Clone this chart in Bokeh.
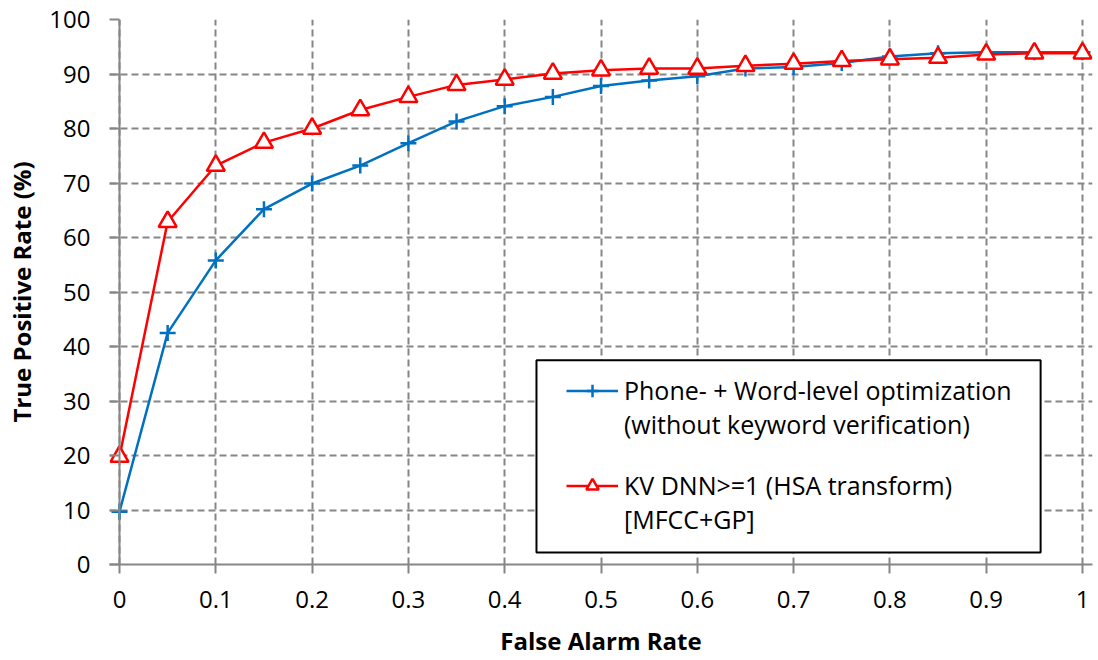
from bokeh.plotting import figure
from bokeh.models import (Legend, LegendItem, FixedTicker, NumeralTickFormatter,
                          Range1d, Span, BoxAnnotation)
from bokeh.embed import file_html
from bokeh.resources import INLINE

# ---- data ----
far = [0.0, 0.05, 0.1, 0.15, 0.2, 0.25, 0.3, 0.35, 0.4, 0.45, 0.5,
       0.55, 0.6, 0.65, 0.7, 0.75, 0.8, 0.85, 0.9, 0.95, 1.0]
tpr_phone_word = [9.7, 42.5, 55.8, 65.2, 69.9, 73.2, 77.3, 81.3, 84.1, 85.8, 87.8,
                  88.8, 89.6, 91.0, 91.3, 92.0, 93.2, 93.8, 94.0, 94.0, 94.0]
tpr_kv_dnn = [19.8, 62.9, 73.2, 77.4, 80.0, 83.4, 85.8, 88.0, 89.0, 90.1, 90.7,
              91.0, 91.0, 91.5, 91.9, 92.4, 92.7, 93.0, 93.6, 93.8, 93.8]
x_ticks = [0.0, 0.1, 0.2, 0.3, 0.4, 0.5, 0.6, 0.7, 0.8, 0.9, 1.0]
y_ticks = [0, 10, 20, 30, 40, 50, 60, 70, 80, 90, 100]
label_blue = ["Phone- + Word-level optimization", "(without keyword verification)"]
label_red = ["KV DNN>=1 (HSA transform)", "[MFCC+GP]"]

FONT = "Open Sans"
BLUE = "#0070C0"
RED = "#FF0000"
GRAY = "#868686"

# layout (pixels)
PLOT_W = 963.0          # width of x in [0, 1]
X_PAD = 10.0            # extra room so edge markers are not clipped
xpad = X_PAD / PLOT_W

p = figure(width=1098, height=660, output_backend="svg", toolbar_location=None,
           x_range=Range1d(-xpad, 1 + xpad), y_range=Range1d(0, 100),
           min_border_left=109, min_border_right=6, min_border_top=19,
           min_border_bottom=96)
p.outline_line_color = None
p.background_fill_color = "white"
p.border_fill_color = "white"

# axes
for ax in (p.xaxis[0], p.yaxis[0]):
    ax.axis_line_color = GRAY
    ax.axis_line_width = 2
    ax.major_tick_line_color = GRAY
    ax.major_tick_line_width = 2
    ax.minor_tick_line_color = None
    ax.major_label_text_font = FONT
    ax.major_label_text_font_size = "24px"
    ax.major_label_text_color = "black"
    ax.axis_label_text_font = FONT
    ax.axis_label_text_font_size = "24px"
    ax.axis_label_text_font_style = "bold"
    ax.axis_label_text_color = "black"

p.xaxis.major_tick_out = 9
p.xaxis.major_tick_in = 0
p.yaxis.axis_line_color = None
p.yaxis.major_tick_out = 0
p.yaxis.major_tick_in = int(X_PAD)

p.xaxis.ticker = FixedTicker(ticks=x_ticks)
p.xaxis.formatter = NumeralTickFormatter(format="0.[0]")
p.yaxis.ticker = FixedTicker(ticks=y_ticks)
p.xaxis.axis_label = "False Alarm Rate"
p.yaxis.axis_label = "True Positive Rate (%)"
p.xaxis.major_label_standoff = 17
p.yaxis.major_label_standoff = 19
p.xaxis.axis_label_standoff = 13
p.yaxis.axis_label_standoff = 8

# grid
for g in (p.xgrid[0], p.ygrid[0]):
    g.grid_line_color = GRAY
    g.grid_line_width = 2
    g.grid_line_dash = "7 4"

# vertical axis line at x = 0
p.add_layout(Span(location=0, dimension="height", line_color=GRAY, line_width=2))

# series
bl = p.line(far, tpr_phone_word, line_color=BLUE, line_width=2.5)
bm = p.scatter(far, tpr_phone_word, marker="cross", size=16, line_color=BLUE,
               line_width=2.5)
rl = p.line(far, tpr_kv_dnn, line_color=RED, line_width=2.5)
rm = p.scatter(far, tpr_kv_dnn, marker="triangle", size=18, line_color=RED,
               fill_color="white", line_width=2.5)

dummy = p.line([], [], line_alpha=0)

# legend frame (data coordinates of the box)
box = BoxAnnotation(left=0.433, right=0.9565, bottom=2.2, top=37.5,
                    fill_color="white", fill_alpha=1,
                    line_color="black", line_width=2, line_alpha=1)
p.add_layout(box)


def make_legend(items, loc):
    lg = Legend(items=items, location=loc)
    lg.label_text_font = FONT
    lg.label_text_font_size = "25px"
    lg.label_text_color = "black"
    lg.glyph_width = 52
    lg.glyph_height = 31
    lg.label_height = 31
    lg.label_standoff = 6
    lg.spacing = 0
    lg.padding = 0
    lg.margin = 0
    lg.border_line_color = None
    lg.background_fill_alpha = 0
    return lg


leg_blue = make_legend([
    LegendItem(label=label_blue[0], renderers=[bl, bm]),
    LegendItem(label=label_blue[1], renderers=[dummy]),
], (457, 123))
leg_red = make_legend([
    LegendItem(label=label_red[0], renderers=[rl, rm]),
    LegendItem(label=label_red[1], renderers=[dummy]),
], (457, 28))
p.add_layout(leg_blue, "center")
p.add_layout(leg_red, "center")

open("out.html", "w").write(file_html(p, INLINE))
